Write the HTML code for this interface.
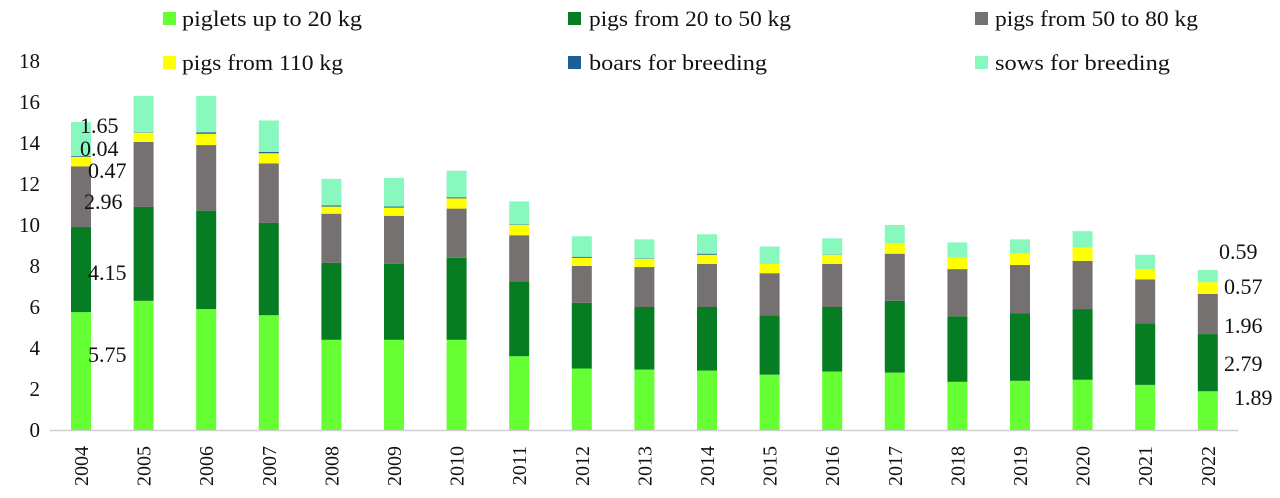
<!DOCTYPE html>
<html><head><style>body{margin:0;background:#fff}svg{display:block}</style></head><body>
<svg id="c" width="1280" height="498" xmlns="http://www.w3.org/2000/svg" font-family="Liberation Serif, serif" font-size="20" fill="#111">
<g id="legend" font-size="22">
<rect x="163" y="12" width="13" height="13" fill="#66ff33"/><text x="182" y="26" textLength="180" lengthAdjust="spacingAndGlyphs">piglets up to 20 kg</text>
<rect x="568" y="12" width="13" height="13" fill="#067d22"/><text x="589" y="26" textLength="202" lengthAdjust="spacingAndGlyphs">pigs from 20 to 50 kg</text>
<rect x="975" y="12" width="13" height="13" fill="#767171"/><text x="995" y="26" textLength="203" lengthAdjust="spacingAndGlyphs">pigs from 50 to 80 kg</text>
<rect x="163" y="56" width="13" height="13" fill="#ffff00"/><text x="182" y="70" textLength="161" lengthAdjust="spacingAndGlyphs">pigs from 110 kg</text>
<rect x="568" y="56" width="13" height="13" fill="#1f5f99"/><text x="589" y="70" textLength="178" lengthAdjust="spacingAndGlyphs">boars for breeding</text>
<rect x="975" y="56" width="13" height="13" fill="#88f8bf"/><text x="995" y="70" textLength="175" lengthAdjust="spacingAndGlyphs">sows for breeding</text>
</g>
<line x1="50" y1="430.5" x2="1238" y2="430.5" stroke="#d0d0d0" stroke-width="1.5"/>
</svg>
<script>
var s=document.getElementById('c'),NS='http://www.w3.org/2000/svg';
function el(t,a,txt){var e=document.createElementNS(NS,t);for(var k in a)e.setAttribute(k,a[k]);if(txt!=null)e.textContent=txt;s.appendChild(e);return e;}
var y0=430,u=20.5;
for(var v=0;v<=18;v+=2)el('text',{x:40,y:y0-v*u+7,'text-anchor':'end','font-size':'21'},v);
var d=[[5.75,9.9,12.86,13.33,13.37,15.02],[6.3,10.88,14.05,14.5,14.52,16.3],[5.9,10.7,13.9,14.45,14.52,16.3],[5.6,10.1,13.0,13.5,13.56,15.1],[4.4,8.15,10.55,10.9,10.95,12.25],[4.4,8.1,10.45,10.85,10.9,12.3],[4.4,8.4,10.8,11.3,11.35,12.65],[3.6,7.25,9.5,10.0,10.02,11.15],[3.0,6.2,8.0,8.4,8.45,9.45],[2.95,6.0,7.95,8.35,8.37,9.3],[2.9,6.0,8.1,8.55,8.6,9.55],[2.7,5.6,7.65,8.1,8.1,8.95],[2.85,6.0,8.1,8.55,8.56,9.35],[2.8,6.3,8.6,9.1,9.1,10.0],[2.35,5.55,7.85,8.4,8.4,9.15],[2.4,5.7,8.05,8.6,8.6,9.3],[2.45,5.9,8.25,8.9,8.9,9.7],[2.2,5.2,7.35,7.85,7.85,8.55],[1.89,4.68,6.64,7.21,7.21,7.8]];
var col=['#66ff33','#067d22','#767171','#ffff00','#1f5f99','#88f8bf'];
d.forEach(function(b,i){var cx=81+62.6*i,prev=0;
 b.forEach(function(t,j){var h=(t-prev)*u;if(h>0){el('rect',{x:cx-10,y:y0-t*u,width:20,height:h,fill:col[j]});}prev=t;});
 var ty=446,tx=cx+7;el('text',{x:tx,y:ty,transform:'rotate(-90 '+tx+' '+ty+')','text-anchor':'end','font-size':'20'},2004+i);
});
[['5.75',88,362],['4.15',88,280],['2.96',84,209],['0.47',88,178],['0.04',80,156],['1.65',80,133]].forEach(function(a){el('text',{x:a[1],y:a[2],'font-size':'22'},a[0]);});
[['0.59',1219,259],['0.57',1224,294],['1.96',1224,333],['2.79',1224,371],['1.89',1234,405]].forEach(function(a){el('text',{x:a[1],y:a[2],'font-size':'22'},a[0]);});
</script>
</body></html>
